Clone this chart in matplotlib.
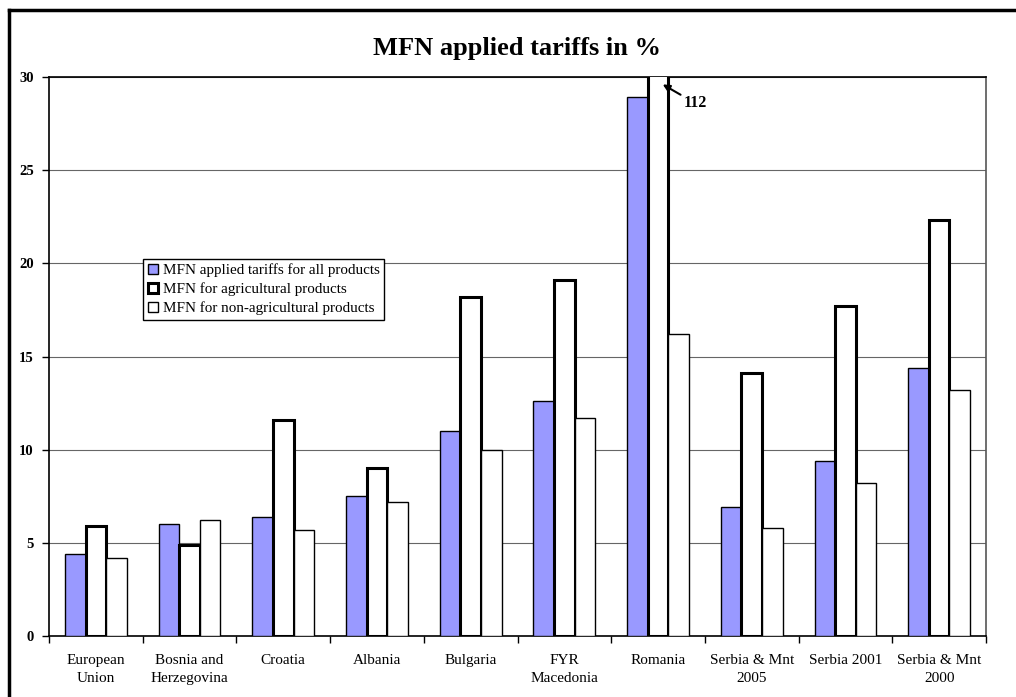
import numpy as np
import matplotlib
matplotlib.use("Agg")
import matplotlib.pyplot as plt
from matplotlib.lines import Line2D

plt.rcParams["font.family"] = ["Liberation Serif", "DejaVu Serif"]

countries = ["European\nUnion", "Bosnia and\nHerzegovina", "Croatia", "Albania",
             "Bulgaria", "FYR\nMacedonia", "Romania", "Serbia & Mnt\n2005",
             "Serbia 2001", "Serbia & Mnt\n2000"]
all_products = [4.4, 6.0, 6.4, 7.5, 11.0, 12.6, 28.9, 6.9, 9.4, 14.4]
agricultural = [5.9, 4.9, 11.6, 9.0, 18.2, 19.1, 112.0, 14.1, 17.7, 22.3]
non_agricultural = [4.2, 6.2, 5.7, 7.2, 10.0, 11.7, 16.2, 5.8, 8.2, 13.2]

W, H = 1016, 697
fig = plt.figure(figsize=(W / 100, H / 100), dpi=100)
ax = fig.add_axes([49 / W, 1 - 636 / H, (986 - 49) / W, (636 - 77) / H])

x = np.arange(len(countries))
bw = 0.22
ax.bar(x - bw, all_products, bw, color="#9999FF", edgecolor="black", linewidth=1.0,
       label="MFN applied tariffs for all products", zorder=3)
ax.bar(x, agricultural, bw, color="white", edgecolor="black", linewidth=2.2,
       label="MFN for agricultural products", zorder=3)
ax.bar(x + bw, non_agricultural, bw, color="white", edgecolor="black", linewidth=1.0,
       label="MFN for non-agricultural products", zorder=3)

ax.set_xlim(-0.5, len(countries) - 0.5)
ax.set_ylim(0, 30)
ax.set_yticks(range(0, 31, 5))
ax.set_yticklabels([str(v) for v in range(0, 31, 5)], fontweight="bold", fontsize=10.5)
ax.set_xticks(x)
ax.set_xticklabels(countries, fontsize=11, linespacing=1.45)
ax.set_xticks(np.arange(-0.5, len(countries), 1.0), minor=True)
ax.tick_params(axis="x", which="major", length=0, pad=13)
ax.tick_params(axis="x", which="minor", length=5, width=1, direction="out")
ax.tick_params(axis="y", length=5, width=1, direction="out", pad=6)
ax.yaxis.grid(True, color="#666666", linewidth=0.8, zorder=0)
ax.set_axisbelow(True)
for s in ax.spines.values():
    s.set_linewidth(1.2)
    s.set_color("black")
ax.spines["right"].set_color("#555555")

ax.annotate("112", xy=(6.05, 29.6), xytext=(6.27, 28.6),
            fontsize=11.5, fontweight="bold", ha="left", va="center",
            arrowprops=dict(arrowstyle="-|>", color="black", lw=1.5,
                            shrinkA=0, shrinkB=0, mutation_scale=10))

leg = ax.legend(loc="upper left", bbox_to_anchor=(94 / (986 - 49), 1 - (259 - 77) / (636 - 77)),
                fontsize=10.9, frameon=True, fancybox=False, framealpha=1,
                edgecolor="black", handlelength=0.7, handleheight=0.7,
                handletextpad=0.3, borderpad=0.3, labelspacing=0.35,
                borderaxespad=0)
leg.get_frame().set_linewidth(1.0)

fig.text(517 / W, 1 - 48 / H, "MFN applied tariffs in %", ha="center", va="center",
         fontsize=19, fontweight="bold")

fig.add_artist(Line2D([9 / W, 1.0], [1 - 10 / H, 1 - 10 / H], color="black", lw=2.5))
fig.add_artist(Line2D([9 / W, 9 / W], [0, 1 - 10 / H], color="black", lw=2.5))

fig.savefig("out.png", dpi=100)
